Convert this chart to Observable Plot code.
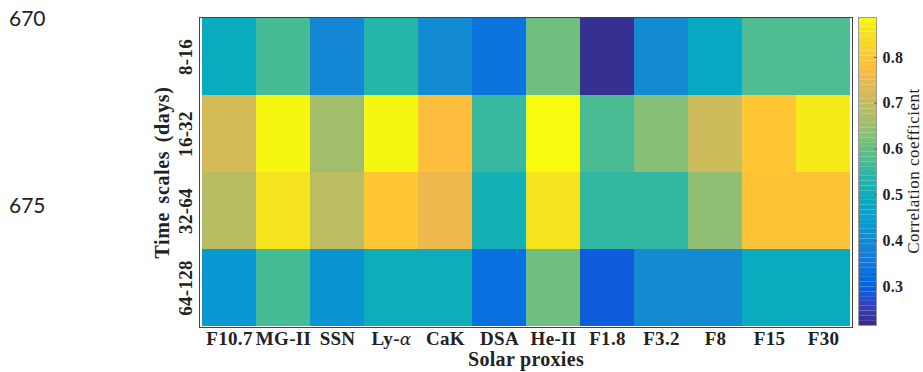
<!DOCTYPE html>
<html><head><meta charset="utf-8">
<script src="https://cdn.jsdelivr.net/npm/d3@7"></script>
<script src="https://cdn.jsdelivr.net/npm/@observablehq/plot@0.6"></script>
<style>
body{margin:0;background:#fff;}
#wrap{position:relative;width:923px;height:372px;overflow:hidden;}
#wrap svg{position:absolute;top:0;}
.ln{position:absolute;left:9px;font-family:Lato,"Open Sans",sans-serif;font-size:21px;color:#222;line-height:25px;}
</style></head><body>
<div id="wrap"><div class="ln" style="top:5px">670</div><div class="ln" style="top:192px">675</div></div>
<script>
// Categories
const proxies = ["F10.7", "MG-II", "SSN", "Ly-α", "CaK", "DSA", "He-II", "F1.8", "F3.2", "F8", "F15", "F30"];
const timeScales = ["8-16", "16-32", "32-64", "64-128"];
// Correlation coefficients per time-scale row (one value per proxy)
const r8_16   = [0.49, 0.57, 0.39, 0.535, 0.40, 0.34, 0.61, 0.225, 0.40, 0.48, 0.58, 0.58];
const r16_32  = [0.72, 0.88, 0.66, 0.88, 0.78, 0.555, 0.885, 0.575, 0.63, 0.71, 0.80, 0.865];
const r32_64  = [0.685, 0.855, 0.69, 0.80, 0.755, 0.51, 0.855, 0.55, 0.55, 0.64, 0.79, 0.79];
const r64_128 = [0.428, 0.57, 0.42, 0.50, 0.50, 0.33, 0.61, 0.29, 0.40, 0.40, 0.49, 0.49];
const colorDomain = [0.215, 0.887];
const cbTicks = [0.3, 0.4, 0.5, 0.6, 0.7, 0.8];

const rows = [r8_16, r16_32, r32_64, r64_128];
const cells = [];
rows.forEach((vals, i) => vals.forEach((v, j) => cells.push({scale: timeScales[i], proxy: proxies[j], value: v})));

// MATLAB parula colormap
const parulaRGB = [
[0.2081,0.1663,0.5292],[0.2116,0.1898,0.5777],[0.2123,0.2138,0.6270],[0.2081,0.2386,0.6771],
[0.1959,0.2645,0.7279],[0.1707,0.2919,0.7792],[0.1253,0.3242,0.8303],[0.0591,0.3598,0.8683],
[0.0117,0.3875,0.8820],[0.0060,0.4086,0.8828],[0.0165,0.4266,0.8786],[0.0329,0.4430,0.8720],
[0.0498,0.4586,0.8641],[0.0629,0.4737,0.8554],[0.0723,0.4887,0.8467],[0.0779,0.5040,0.8384],
[0.0793,0.5200,0.8312],[0.0749,0.5375,0.8263],[0.0641,0.5570,0.8240],[0.0488,0.5772,0.8228],
[0.0343,0.5966,0.8199],[0.0265,0.6137,0.8135],[0.0239,0.6287,0.8038],[0.0231,0.6418,0.7913],
[0.0228,0.6535,0.7768],[0.0267,0.6642,0.7607],[0.0384,0.6743,0.7436],[0.0590,0.6838,0.7254],
[0.0843,0.6928,0.7062],[0.1133,0.7015,0.6859],[0.1453,0.7098,0.6646],[0.1801,0.7177,0.6424],
[0.2178,0.7250,0.6193],[0.2586,0.7317,0.5954],[0.3022,0.7376,0.5712],[0.3482,0.7424,0.5473],
[0.3953,0.7459,0.5244],[0.4420,0.7481,0.5033],[0.4871,0.7491,0.4840],[0.5300,0.7491,0.4661],
[0.5709,0.7485,0.4494],[0.6099,0.7473,0.4337],[0.6473,0.7456,0.4188],[0.6834,0.7435,0.4044],
[0.7184,0.7411,0.3905],[0.7525,0.7384,0.3768],[0.7858,0.7356,0.3633],[0.8185,0.7327,0.3498],
[0.8507,0.7299,0.3360],[0.8824,0.7274,0.3217],[0.9139,0.7258,0.3063],[0.9450,0.7261,0.2886],
[0.9739,0.7314,0.2666],[0.9938,0.7455,0.2403],[0.9990,0.7653,0.2164],[0.9955,0.7861,0.1967],
[0.9880,0.8066,0.1794],[0.9789,0.8271,0.1633],[0.9697,0.8481,0.1475],[0.9626,0.8705,0.1309],
[0.9589,0.8949,0.1132],[0.9598,0.9218,0.0948],[0.9661,0.9514,0.0755],[0.9763,0.9831,0.0538]];
const parula = parulaRGB.map(c => d3.rgb(c[0]*255, c[1]*255, c[2]*255).formatHex());
const parulaInterp = d3.piecewise(d3.interpolateRgb, parula);

const serif = "'Liberation Serif', 'Times New Roman', serif";
const font = {fontFamily: serif, fontSize: "19px", fontWeight: "bold", background: "transparent", color: "#222", letterSpacing: "0.3px"};

const main = Plot.plot({
  width: 923, height: 372,
  marginLeft: 199, marginRight: 71, marginTop: 17, marginBottom: 45,
  style: font,
  x: {domain: proxies, padding: 0},
  y: {domain: timeScales, padding: 0},
  color: {type: "linear", domain: colorDomain, interpolate: parulaInterp},
  marks: [
    Plot.cell(cells, {x: "proxy", y: "scale", fill: "value", inset: 0}),
    Plot.frame({stroke: "#444", strokeWidth: 1}),
    Plot.axisX({tickSize: 0, tickPadding: 4, label: null, fontSize: 19}),
    Plot.axisY({tickSize: 0, tickPadding: 8, tickRotate: -90, label: null, fontSize: 19}),
    Plot.text(["Solar proxies"], {frameAnchor: "bottom", lineAnchor: "middle", textAnchor: "middle", dy: 32.5, fontSize: 20, fontWeight: "bold", letterSpacing: "0.6px"}),
    Plot.text(["Time scales (days)"], {frameAnchor: "left", lineAnchor: "middle", textAnchor: "middle", dx: -37, rotate: -90, fontSize: 20, fontWeight: "bold"})
  ]
});
main.style.left = "0px";

const steps = d3.range(64).map(i => ({lo: colorDomain[0] + i * (colorDomain[1]-colorDomain[0]) / 64, hi: colorDomain[0] + (i+1) * (colorDomain[1]-colorDomain[0]) / 64}));
const cb = Plot.plot({
  width: 65, height: 372,
  marginLeft: 0, marginRight: 47, marginTop: 17, marginBottom: 47,
  style: {...font, fontSize: "16px", letterSpacing: "0.2px"},
  x: {domain: [0, 1], axis: null},
  y: {domain: colorDomain},
  color: {type: "linear", domain: colorDomain, interpolate: parulaInterp},
  marks: [
    Plot.rect(steps, {x1: 0, x2: 1, y1: "lo", y2: "hi", fill: d => (d.lo + d.hi) / 2}),
    Plot.frame({stroke: "#999", strokeWidth: 1}),
    Plot.axisY({anchor: "right", ticks: cbTicks, tickFormat: d3.format(".1f"), tickSize: -3, tickPadding: 9, label: null, fontSize: 16, stroke: "#666"})
  ]
});
cb.style.left = "858px";
const wrap = document.getElementById("wrap");
wrap.appendChild(main);
wrap.appendChild(cb);

// letter spacing for y-axis title
d3.select(main).selectAll("text").filter(function() { return this.textContent === "Time scales (days)"; }).attr("letter-spacing", "0.6px").style("word-spacing", "3px");

// italic math alpha in "Ly-α"
d3.select(main).selectAll("text").filter(function() { return this.textContent === "Ly-α"; }).each(function() {
  const t = d3.select(this);
  t.text(null);
  t.append("tspan").text("Ly-");
  t.append("tspan").attr("font-style", "italic").attr("font-family", "'DejaVu Serif', serif").attr("font-weight", "normal").attr("font-size", 17).text("α");
});

// colorbar title
d3.select(cb).append("text")
  .attr("transform", "translate(55,171) rotate(-90)")
  .attr("text-anchor", "middle").attr("dy", "0.35em")
  .attr("font-family", serif).attr("font-size", 17).attr("font-weight", "normal")
  .attr("letter-spacing", "0.5px")
  .attr("fill", "#222")
  .text("Correlation coefficient");
</script>
</body></html>
